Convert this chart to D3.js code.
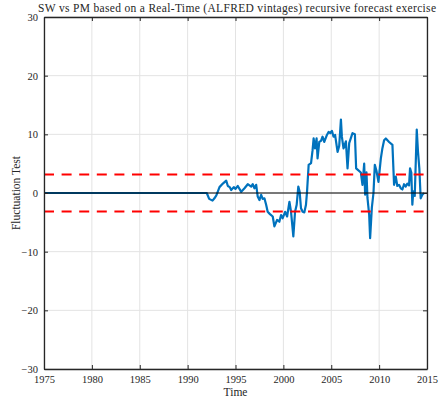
<!DOCTYPE html>
<html>
<head>
<meta charset="utf-8">
<script src="https://cdn.jsdelivr.net/npm/d3@7"></script>
<style>
  html, body { margin: 0; padding: 0; background: #fff; }
  text { font-family: "Liberation Serif", "DejaVu Serif", serif; fill: #262626; }
</style>
</head>
<body>
<svg id="chart" width="440" height="403"></svg>
<script>
const titleText = "SW vs PM based on a Real-Time (ALFRED vintages) recursive forecast exercise";
const xLabel = "Time";
const yLabel = "Fluctuation Test";
const xTicks = [1975, 1980, 1985, 1990, 1995, 2000, 2005, 2010, 2015];
const yTicks = [-30, -20, -10, 0, 10, 20, 30];
const criticalValue = 3.17;

const years = [
  1975.0, 1992.0, 1992.25, 1992.6, 1992.8, 1993.0, 1993.33, 1993.68, 1994.03, 1994.2,
  1994.4, 1994.55, 1994.82, 1995.0, 1995.24, 1995.6, 1995.94, 1996.28, 1996.64, 1996.8,
  1996.98, 1997.16, 1997.32, 1997.5, 1997.68, 1997.84,
  1998.02, 1998.2, 1998.36, 1998.6, 1998.89, 1999.06, 1999.34, 1999.58, 1999.76, 1999.93,
  2000.18, 2000.39, 2000.63, 2000.8, 2001.04, 2001.22, 2001.39, 2001.56, 2001.7, 2001.84,
  2002.01, 2002.19, 2002.36, 2002.47, 2002.64, 2002.89, 2003.05, 2003.16, 2003.3, 2003.47,
  2003.57, 2003.75, 2003.93, 2004.09, 2004.27, 2004.55, 2004.72, 2004.9, 2005.07, 2005.24,
  2005.4, 2005.66, 2005.83, 2006.01, 2006.11, 2006.28, 2006.53, 2006.7, 2006.875, 2007.22,
  2007.47, 2007.6, 2007.81, 2008.09, 2008.26, 2008.44, 2008.54, 2008.68, 2008.78, 2008.96,
  2009.06, 2009.24, 2009.41, 2009.55, 2009.72, 2009.93, 2010.18, 2010.34, 2010.52, 2010.7,
  2011.04, 2011.39, 2011.56, 2011.74, 2011.9, 2012.08, 2012.26, 2012.43, 2012.6, 2012.78,
  2012.95, 2013.125, 2013.23, 2013.36, 2013.47, 2013.57, 2013.72, 2013.93, 2014.06, 2014.2,
  2014.34, 2014.51, 2014.69
];
const fluct = [
  0.0, 0.0, -1.0, -1.3, -0.9, -0.4, 1.0, 1.6, 2.1, 1.2,
  1.0, 0.5, 1.0, 0.7, 1.2, 0.2, 0.8, 1.5, 1.1, 1.5,
  0.8, 1.4, -0.6, -1.2, -0.3, -1.0,
  -0.9, -2.0, -3.2, -3.6, -4.0, -5.7, -4.6, -4.9, -3.75, -4.3,
  -3.2, -4.0, -1.5, -3.2, -7.4, -3.2, -2.0, 1.1, 0.2, -2.6,
  -3.2, -3.3, -2.0, 0.2, 4.8, 5.1, 7.3, 9.3, 7.6, 9.3,
  5.9, 8.7, 8.9, 9.6, 8.7, 9.9, 10.4, 10.2, 10.6, 9.6,
  9.9, 7.0, 8.0, 12.5, 9.6, 7.6, 8.8, 4.2, 8.5, 10.2,
  10.0, 4.2, 3.9, 3.5, 1.4, 5.0, -0.3, 3.5, -0.8, -3.7,
  -7.7, -2.5, 0.0, 4.8, 3.8, 1.9, 5.9, 7.6, 9.0, 9.3,
  8.7, 8.2, 1.4, 2.8, 1.2, 1.4, 0.8, 0.6, 1.5, 1.1,
  1.6, 1.3, 4.2, 3.5, -2.0, 0.3, -0.5, 10.8, 7.0, 4.2,
  -0.9, -0.3, 0.0
];

const svg = d3.select("#chart");
const margin = { left: 44, right: 13, top: 17, bottom: 34 };
const W = 440, H = 403;
const x = d3.scaleLinear().domain([1975, 2015]).range([margin.left, W - margin.right]);
const y = d3.scaleLinear().domain([-30, 30]).range([H - margin.bottom, margin.top]);

// grid
const grid = svg.append("g");
grid.selectAll("line.gx").data(xTicks).join("line")
  .attr("x1", d => x(d)).attr("x2", d => x(d))
  .attr("y1", y(-30)).attr("y2", y(30))
  .attr("stroke", "#e3e3e3").attr("stroke-width", 1);
grid.selectAll("line.gy").data(yTicks).join("line")
  .attr("y1", d => y(d)).attr("y2", d => y(d))
  .attr("x1", x(1975)).attr("x2", x(2015))
  .attr("stroke", "#e3e3e3").attr("stroke-width", 1);

// series
const pts = years.map((yr, i) => [yr, fluct[i]]);
const line = d3.line().x(d => x(d[0])).y(d => y(d[1]));
svg.append("path").datum(pts).attr("d", line)
  .attr("fill", "none").attr("stroke", "#0072BD").attr("stroke-width", 2.2)
  .attr("stroke-linejoin", "round");

// critical value lines
[criticalValue, -criticalValue].forEach(v => {
  svg.append("line")
    .attr("x1", x(1975)).attr("x2", x(2015))
    .attr("y1", y(v)).attr("y2", y(v))
    .attr("stroke", "#ff0000").attr("stroke-width", 2)
    .attr("stroke-dasharray", "10,7.6");
});
// zero line
svg.append("line")
  .attr("x1", x(1975)).attr("x2", x(2015))
  .attr("y1", y(0)).attr("y2", y(0))
  .attr("stroke", "#000").attr("stroke-width", 1);

// axes
const fontSize = "10.5px";
const axB = d3.axisBottom(x).tickValues(xTicks).tickSizeInner(-4).tickSizeOuter(0).tickPadding(7).tickFormat(d3.format("d"));
const axT = d3.axisTop(x).tickValues(xTicks).tickSizeInner(-4).tickSizeOuter(0).tickFormat("");
const axL = d3.axisLeft(y).tickValues(yTicks).tickSizeInner(-4).tickSizeOuter(0).tickPadding(6);
const axR = d3.axisRight(y).tickValues(yTicks).tickSizeInner(-4).tickSizeOuter(0).tickFormat("");

function styleAxis(g) {
  g.attr("font-family", null);
  g.select(".domain").attr("stroke", "#262626").attr("stroke-width", 1.3);
  g.selectAll(".tick line").attr("stroke", "#262626").attr("stroke-width", 1);
  g.selectAll(".tick text").attr("font-size", fontSize).attr("fill", "#262626");
}
svg.append("g").attr("transform", `translate(0,${y(-30)})`).call(axB).call(styleAxis);
svg.append("g").attr("transform", `translate(0,${y(30)})`).call(axT).call(styleAxis);
svg.append("g").attr("transform", `translate(${x(1975)},0)`).call(axL).call(styleAxis);
svg.append("g").attr("transform", `translate(${x(2015)},0)`).call(axR).call(styleAxis);

// labels
svg.append("text").attr("x", 237).attr("y", 12)
  .attr("text-anchor", "middle").attr("font-size", "11.5px")
  .attr("textLength", 398).attr("lengthAdjust", "spacing").text(titleText);
svg.append("text").attr("x", (x(1975) + x(2015)) / 2).attr("y", 396)
  .attr("text-anchor", "middle").attr("font-size", "11.5px").text(xLabel);
svg.append("text").attr("transform", `translate(20,${y(0)}) rotate(-90)`)
  .attr("text-anchor", "middle").attr("font-size", "11.5px").text(yLabel);
</script>
</body>
</html>
